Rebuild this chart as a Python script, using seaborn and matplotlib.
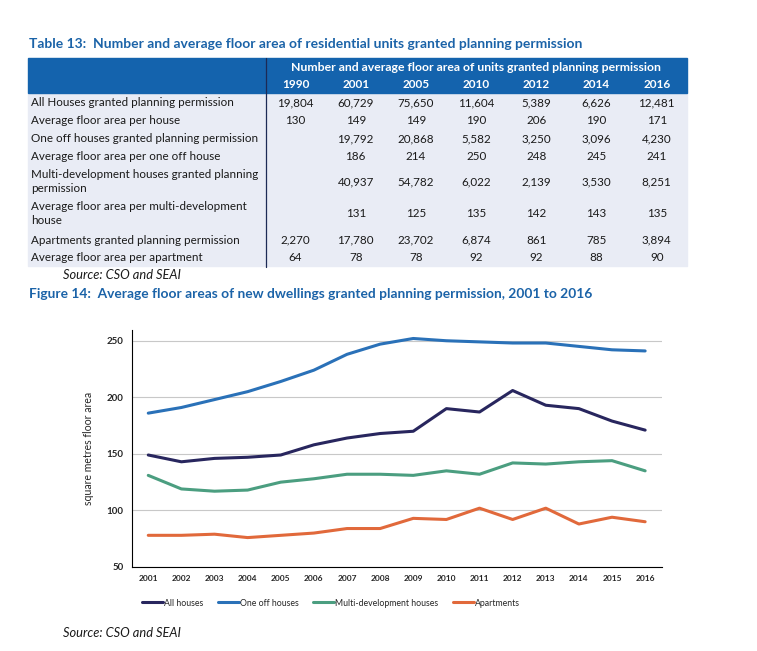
import matplotlib.pyplot as plt
import matplotlib.patches as mpatches
import pandas as pd
import seaborn as sns

W, H = 757, 651

# chart data (table values used where given)
years = [str(y) for y in range(2001, 2017)]
all_houses = [149, 143, 146, 147, 149, 158, 164, 168, 170, 190, 187, 206, 193, 190, 179, 171]
one_off = [186, 191, 198, 205, 214, 224, 238, 247, 252, 250, 249, 248, 248, 245, 242, 241]
multi_dev = [131, 119, 117, 118, 125, 128, 132, 132, 131, 135, 132, 142, 141, 143, 144, 135]
apartments = [78, 78, 79, 76, 78, 80, 84, 84, 93, 92, 102, 92, 102, 88, 94, 90]
series_names = ['All houses', 'One off houses', 'Multi-development houses', 'Apartments']
series_colors = ['#28265e', '#2a71b8', '#4b9e80', '#e1693b']

# table data
table_years = ['1990', '2001', '2005', '2010', '2012', '2014', '2016']
row_labels = ['All Houses granted planning permission',
              'Average floor area per house',
              'One off houses granted planning permission',
              'Average floor area per one off house',
              'Multi-development houses granted planning\npermission',
              'Average floor area per multi-development\nhouse',
              'Apartments granted planning permission',
              'Average floor area per apartment']
houses_granted = ['19,804', '60,729', '75,650', '11,604', '5,389', '6,626', '12,481']
house_area = ['130', '149', '149', '190', '206', '190', '171']
oneoff_granted = ['', '19,792', '20,868', '5,582', '3,250', '3,096', '4,230']
oneoff_area = ['', '186', '214', '250', '248', '245', '241']
multi_granted = ['', '40,937', '54,782', '6,022', '2,139', '3,530', '8,251']
multi_area = ['', '131', '125', '135', '142', '143', '135']
apt_granted = ['2,270', '17,780', '23,702', '6,874', '861', '785', '3,894']
apt_area = ['64', '78', '78', '92', '92', '88', '90']
table_rows = [houses_granted, house_area, oneoff_granted, oneoff_area,
              multi_granted, multi_area, apt_granted, apt_area]
row_y = [102.5, 120.5, 139, 157, 181.5, 213.5, 240, 257.5]

sns.set_style('white')
plt.rcParams['font.family'] = ['Lato', 'DejaVu Sans']

fig = plt.figure(figsize=(W / 100, H / 100), dpi=100)


def fx(x):
    return x / W


def fy(y):
    return 1 - y / H


title_blue = '#1b63a8'
fig.text(fx(29), fy(44), 'Table 13:  Number and average floor area of residential units granted planning permission',
         color=title_blue, fontsize=10, fontweight='bold', va='center')

# table background
fig.patches.append(mpatches.Rectangle((fx(28), fy(266)), fx(686.7) - fx(28), fy(93.3) - fy(266),
                                      transform=fig.transFigure, color='#e9ecf5', zorder=0))
fig.patches.append(mpatches.Rectangle((fx(28), fy(93.3)), fx(686.7) - fx(28), fy(58.3) - fy(93.3),
                                      transform=fig.transFigure, color='#1463ad', zorder=0))
fig.lines.append(plt.Line2D([fx(266), fx(266)], [fy(58.3), fy(267)], transform=fig.transFigure,
                            color='#1c2a55', lw=0.9))

fig.text(fx(476), fy(67.5), 'Number and average floor area of units granted planning permission',
         color='white', fontsize=8.8, fontweight='bold', ha='center', va='center')
col_x = [295.5 + 60.2 * i for i in range(len(table_years))]
for cx, yr in zip(col_x, table_years):
    fig.text(fx(cx), fy(85), yr, color='white', fontsize=8.5, fontweight='bold', ha='center', va='center')

for label, vals, ry in zip(row_labels, table_rows, row_y):
    fig.text(fx(31), fy(ry), label, fontsize=8.4, color='#1a1a1a', va='center', linespacing=1.4)
    for cx, v in zip(col_x, vals):
        fig.text(fx(cx), fy(ry), v, fontsize=8.4, color='#1a1a1a', ha='center', va='center')

fig.text(fx(63), fy(275), 'Source: CSO and SEAI', fontsize=9.3, style='italic', color='#1a1a1a', va='center')

fig.text(fx(29), fy(294), 'Figure 14:  Average floor areas of new dwellings granted planning permission, 2001 to 2016',
         color=title_blue, fontsize=9.9, fontweight='bold', va='center')

# line chart
df = pd.DataFrame({
    'pos': list(range(len(years))) * 4,
    'area': all_houses + one_off + multi_dev + apartments,
    'series': [n for n in series_names for _ in years],
})

ax = fig.add_axes([fx(131.7), fy(567), fx(661.7) - fx(131.7), fy(330) - fy(567)])
sns.lineplot(data=df, x='pos', y='area', hue='series', hue_order=series_names,
             palette=series_colors, linewidth=2.2, ax=ax)

ax.set_xlim(-0.5, len(years) - 0.5)
ax.set_ylim(50, 259.5)
ax.set_yticks([50, 100, 150, 200, 250])
ax.set_xticks([i - 0.5 for i in range(len(years) + 1)])
ax.set_xticklabels([])
ax.set_xticks(range(len(years)), minor=True)
ax.set_xticklabels(years, minor=True)
ax.tick_params(axis='x', which='major', direction='out', length=4, width=0.8, color='black')
ax.tick_params(axis='x', which='minor', length=0, pad=6, labelsize=6)
ax.tick_params(axis='y', direction='out', length=4, width=0.8, color='black', labelsize=7, pad=2)
for t in ax.get_xticklabels(minor=True) + ax.get_yticklabels():
    t.set_fontweight('bold')
ax.yaxis.grid(True, color='#c8c8c8', lw=0.8)
ax.set_axisbelow(True)
sns.despine(ax=ax)
for s in ['left', 'bottom']:
    ax.spines[s].set_color('black')
    ax.spines[s].set_linewidth(0.8)
ax.set_xlabel('')
ax.set_ylabel('square metres floor area', fontsize=7.6, labelpad=9)

sns.move_legend(ax, 'center left', bbox_to_anchor=(fx(134), fy(603)), bbox_transform=fig.transFigure,
                ncol=4, frameon=False, title=None, fontsize=6.3, handlelength=2.4,
                handletextpad=0.1, columnspacing=1.7)

fig.text(fx(63), fy(633), 'Source: CSO and SEAI', fontsize=9.3, style='italic', color='#1a1a1a', va='center')

fig.savefig('out.png', dpi=100)
